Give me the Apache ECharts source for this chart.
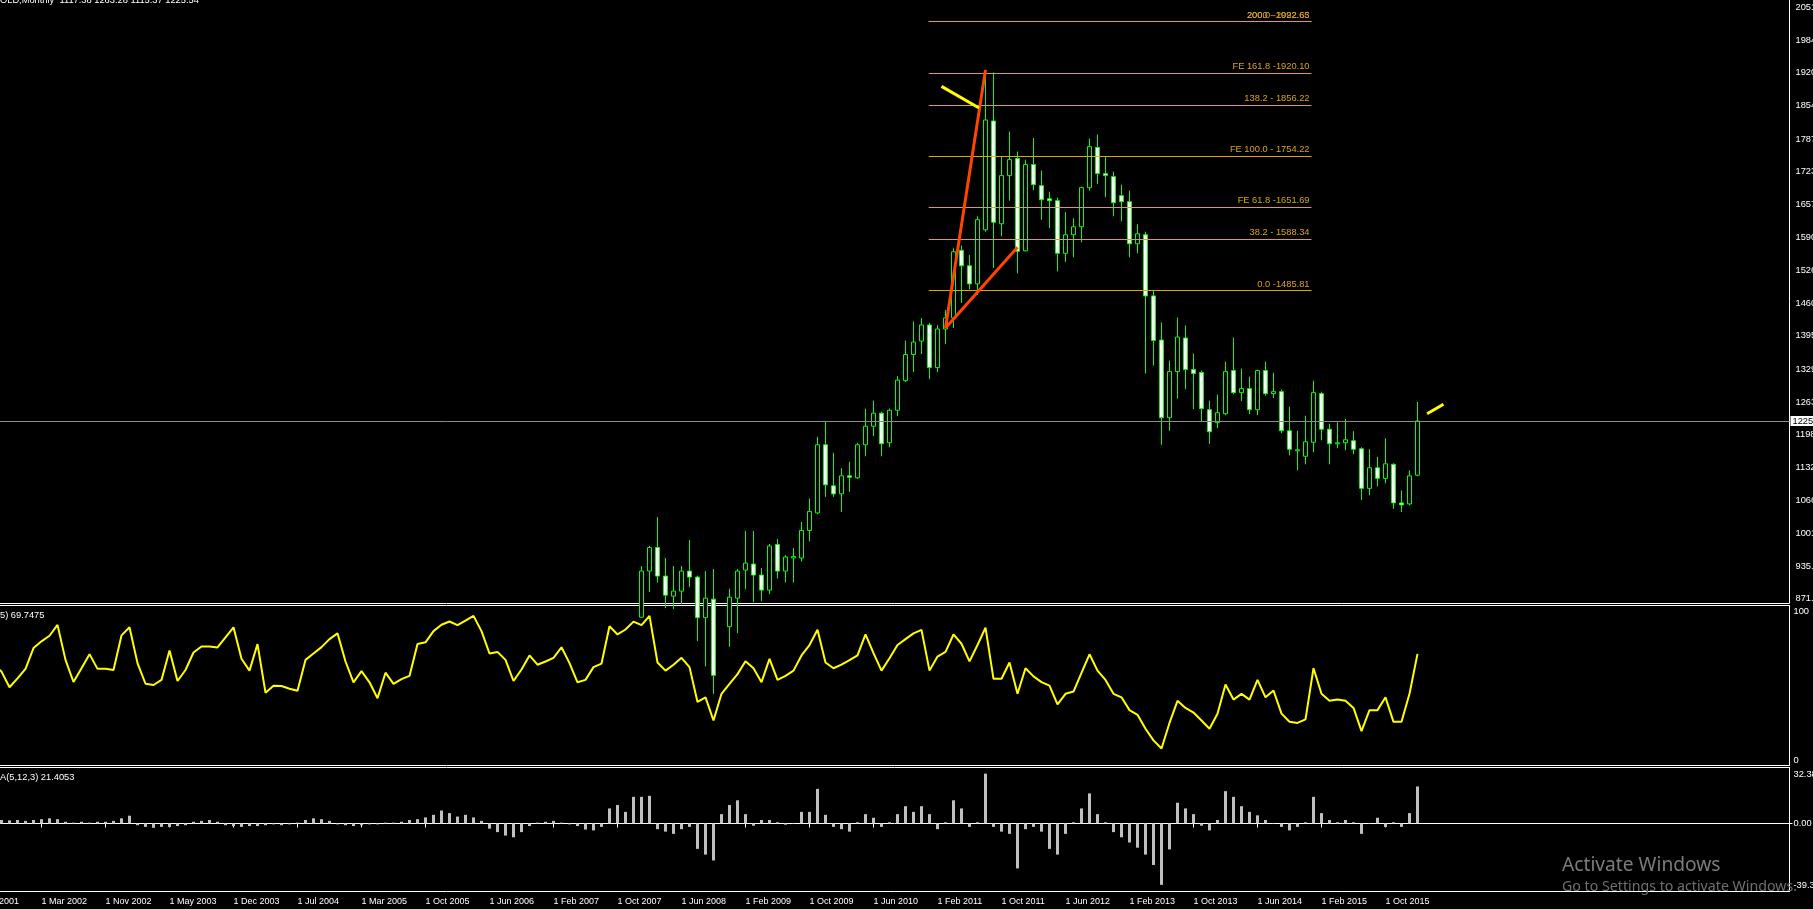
<!DOCTYPE html>
<html><head><meta charset="utf-8">
<script src="https://cdn.jsdelivr.net/npm/echarts@6/dist/echarts.min.js"></script>
<style>html,body{margin:0;padding:0;background:#000;overflow:hidden}#c{width:1813px;height:909px}</style>
</head><body><div id="c"></div>
<script>
// ---------- data ----------
const timeLabels = ['1 Jul 2001','1 Mar 2002','1 Nov 2002','1 May 2003','1 Dec 2003','1 Jul 2004','1 Mar 2005','1 Oct 2005','1 Jun 2006','1 Feb 2007','1 Oct 2007','1 Jun 2008','1 Feb 2009','1 Oct 2009','1 Jun 2010','1 Feb 2011','1 Oct 2011','1 Jun 2012','1 Feb 2013','1 Oct 2013','1 Jun 2014','1 Feb 2015','1 Oct 2015'];
const barsPerLabel = 8;
const totalSlots = 227;          // bars + empty future slots shown on the axis
const candleStart = 83;          // bar index of first candle (Jan 2008)
const opens  = [834,926,973,916,876,886,926,914,833,870,718,815,872,928,940,918,888,979,926,952,952,1007,1042,1178,1096,1080,1116,1112,1178,1215,1241,1182,1247,1306,1358,1385,1417,1332,1409,1431,1566,1535,1499,1607,1824,1619,1715,1749,1565,1737,1695,1669,1665,1560,1597,1613,1691,1771,1719,1713,1675,1663,1579,1597,1475,1387,1232,1324,1391,1328,1322,1248,1222,1240,1326,1282,1290,1248,1326,1280,1284,1206,1166,1155,1183,1280,1209,1180,1182,1186,1170,1091,1132,1111,1139,1062,1060,1117.38];
const highs  = [936,976,1034,952,936,936,988,917,926,930,846,891,930,1006,1006,932,980,990,958,972,1024,1071,1194,1225,1162,1131,1144,1182,1250,1266,1244,1250,1315,1386,1424,1431,1421,1417,1447,1570,1576,1557,1634,1912,1921,1753,1803,1763,1747,1790,1725,1683,1671,1642,1630,1693,1789,1797,1754,1723,1697,1685,1618,1603,1487,1422,1346,1432,1416,1360,1326,1266,1278,1344,1392,1330,1314,1328,1344,1322,1288,1254,1206,1236,1306,1284,1220,1223,1230,1205,1173,1169,1154,1191,1141,1087,1127,1263.28];
const lows   = [833,884,903,852,850,860,894,786,736,681,700,775,802,890,864,866,880,911,903,903,945,985,1040,1074,1074,1044,1084,1110,1155,1195,1155,1173,1235,1303,1323,1359,1309,1323,1379,1411,1461,1488,1477,1603,1531,1594,1665,1520,1564,1686,1627,1610,1524,1543,1552,1582,1685,1698,1672,1634,1624,1552,1560,1320,1336,1178,1206,1270,1289,1249,1225,1180,1211,1237,1279,1265,1239,1237,1276,1271,1201,1157,1127,1139,1163,1187,1139,1171,1167,1159,1068,1077,1095,1101,1050,1044,1057,1115.37];
const closes = [926,973,916,878,886,926,914,833,872,718,815,874,926,942,918,888,976,926,954,955,1007,1045,1178,1098,1080,1116,1113,1178,1215,1241,1180,1247,1307,1358,1383,1417,1332,1409,1431,1563,1535,1499,1627,1826,1622,1715,1747,1564,1737,1697,1667,1665,1560,1597,1613,1691,1773,1719,1715,1661,1663,1579,1599,1475,1386,1232,1324,1393,1328,1320,1250,1204,1242,1324,1282,1290,1248,1326,1280,1284,1206,1169,1168,1184,1282,1209,1180,1182,1188,1169,1091,1132,1111,1140,1062,1058,1116,1225.54];
const lastPrice = 1225.54;
const rsi = [60,64,63,58.7,48.9,54.5,60.4,73.4,77.6,81.1,87.9,66,52.2,60.8,69.6,60.4,60.4,59.7,81.3,86.4,64,51.1,50.3,53.5,71.9,52.8,59.7,70.6,74.4,74.4,73.8,80.1,86.4,66.7,59.3,75.9,45.5,49.9,49.7,48,46.7,
 66,70,74,79,82.6,65,52,59,52,42,58,51,54,56,76,77,84,88,90,87.7,90.6,93.5,84,70,71,66,52.8,60,68.8,63,65,67.3,73.9,64,52,53.5,61.5,63.7,87,81.9,85,89.9,87.7,93.5,64.4,59.3,63,67.3,61.5,39.7,42.6,28.1,44.8,51,57.1,65.1,60.8,52.1,66.6,53.5,56,59.3,68.8,75.3,84.8,64.4,60.8,63,65.9,68.8,81.9,70.2,59.3,67,75.3,79,82.6,84.8,59.3,68.1,71,81.9,76.1,65.1,75.3,86.2,54.2,54.2,64.4,44.8,60.8,55.7,52.1,49.9,38.2,44.8,46.2,57.9,69.5,59.3,53.5,44.8,42.6,34.6,31.7,23,15.7,10.6,26.6,40.4,36,33.1,28.1,23,32.4,50.6,41.2,44.8,41.2,53.5,42.6,46.9,32.4,27.3,26.6,28.8,60.8,44.8,40.4,41.2,40.4,36,21.5,34.6,34.6,42.6,27.3,27.3,44.8,69.7475];
const osma = [1.5,1.8,1.5,2,1.8,2,1.5,2,2.5,3,2.5,1,0.5,1,0.5,1,1,1.5,3,4.5,-1,-2,-2.5,-2,-2,-1.5,-1,1,1.5,2,1,-1,-1.5,-2,-1.5,-1.5,-1,-0.5,-1,-0.5,0.5,2,3,2.5,1.5,-0.5,-1,-1.5,-1,-0.5,-0.5,0.5,0.5,1,2,2.5,3.5,5,7.5,6,4,5,3.5,1.5,-3,-5,-7,-8,-5,-1.5,0.5,1,1.5,0.5,-0.5,-1.5,-3.5,-4,-2,8.7,10.7,6.7,15.4,15.4,16,-3.3,-4.7,-6,-3.3,-2,-14.7,-18,-21.4,5.4,10.7,13.4,5.4,-1.3,2,2,0.7,-0.7,0.3,6.7,6.7,20,5,-2,-3.3,-4.7,0.7,5.4,3.3,-2,0.7,5.4,10,6.7,10,5.4,-3.3,0.7,13.4,8.7,-2,0.7,28.8,-2,-4.7,-6,-26,-3.3,-2,-4.7,-14.7,-18,-6,0.7,8.7,17.4,5.4,0.7,-5,-8,-11,-14,-18,-24,-35.5,-15,12,8.7,5.4,-1.3,-4,2,18.7,15.4,10,6.7,4.7,2,0.3,-2,-4,-2,0.7,15.4,6,2,0.7,2,0.7,-6,0.3,3.3,-2,0.7,-2,6,21.4053];
const priceTicks = [871.05,935.84,1001.45,1066.38,1132.00,1198.17,1263.09,1329.26,1395.43,1460.35,1526.52,1590.85,1657.25,1723.42,1787.76,1854.50,1920.66,1984.41,2051.18];
const rsiTickValues = [96.2, 3.1];
const rsiTickLabels = ['100', '0'];
const osmaTickValues = [28.33, 0, -35.59];
const osmaTickLabels = ['32.38', '0.00', '-39.35'];
const fibLevels = [2022.63, 2022.63, 1920.10, 1856.22, 1754.22, 1651.69, 1588.34, 1485.81];
const fibTexts  = ['200.0 -2022.63', '2000 - 1992.65', 'FE 161.8 -1920.10', '138.2 - 1856.22', 'FE 100.0 - 1754.22', 'FE 61.8 -1651.69', '38.2 - 1588.34', '0.0 -1485.81'];
const fibFromBar = 118.9, fibToBar = 166.75;
const redLines = [[[121, 1411], [126, 1926]], [[121, 1411], [130, 1572]]];
const yellowLines = [[[120.5, 1893], [125.2, 1850]], [[181.2, 1240], [183.25, 1259]]];
const headerText = 'OLD,Monthly  1117.38 1263.28 1115.37 1225.54';
const rsiTitle = '5) 69.7475';
const osmaTitle = 'A(5,12,3) 21.4053';

// ---------- build ----------
const categories = [];
for (let i = 0; i < totalSlots; i++) categories.push(String(i));
const candleData = opens.map((o, k) => [candleStart + k, o, closes[k], lows[k], highs[k]]);
const FONT = 'Liberation Sans';
const nearestLabel = (vals, labs) => v => { let b = 0; vals.forEach((x, k) => { if (Math.abs(x - v) < Math.abs(vals[b] - v)) b = k; }); return labs[b]; };
const isLabelSlot = (idx) => idx % barsPerLabel === 0 && idx / barsPerLabel < timeLabels.length;
const hiddenCat = (gi) => ({ type: 'category', gridIndex: gi, data: categories, boundaryGap: true,
  axisLine: { show: false }, axisTick: { show: false }, axisLabel: { show: false }, splitLine: { show: false } });
const gridW = totalSlots * 8;
const gridLeft = 1789.5 - gridW;
const gridBase = { left: gridLeft, width: gridW, show: true, borderColor: '#fff', borderWidth: 1,
  backgroundColor: 'transparent', containLabel: false, outerBoundsMode: 'none' };

const chart = echarts.init(document.getElementById('c'), null, { renderer: 'canvas' });
chart.setOption({
  animation: false,
  backgroundColor: '#000',
  grid: [
    Object.assign({ top: -1.5, height: 605 }, gridBase),
    Object.assign({ top: 605.5, height: 160 }, gridBase),
    Object.assign({ top: 767.5, height: 124 }, gridBase)
  ],
  xAxis: [
    hiddenCat(0), hiddenCat(1),
    { type: 'category', gridIndex: 2, data: categories, boundaryGap: true,
      axisLine: { show: true, lineStyle: { color: '#fff', width: 1 } },
      axisTick: { show: true, alignWithLabel: true, length: 4, interval: (i) => isLabelSlot(i), lineStyle: { color: '#fff' } },
      axisLabel: { show: true, interval: (i) => isLabelSlot(i), formatter: (v, i) => timeLabels[i / barsPerLabel],
        align: 'left', margin: 6, color: '#fff', fontSize: 9, fontFamily: FONT },
      splitLine: { show: false } },
    { type: 'value', gridIndex: 0, min: -0.5, max: totalSlots - 0.5, show: false }
  ],
  yAxis: [
    { type: 'value', gridIndex: 0, position: 'right', min: 861.3, max: 2068.4, scale: true,
      axisLine: { show: true, lineStyle: { color: '#fff' } },
      axisTick: { show: true, length: 3, customValues: priceTicks, lineStyle: { color: '#fff' } },
      axisLabel: { show: true, customValues: priceTicks, formatter: v => v.toFixed(2), margin: 6, color: '#fff', fontSize: 9.3, fontFamily: FONT },
      splitLine: { show: false } },
    { type: 'value', gridIndex: 1, position: 'right', min: 0, max: 100,
      axisLine: { show: true, lineStyle: { color: '#fff' } },
      axisTick: { show: false },
      axisLabel: { show: true, customValues: rsiTickValues, formatter: nearestLabel(rsiTickValues, rsiTickLabels), margin: 4, color: '#fff', fontSize: 9.3, fontFamily: FONT },
      splitLine: { show: false } },
    { type: 'value', gridIndex: 2, position: 'right', min: -39.35, max: 32.38,
      axisLine: { show: true, lineStyle: { color: '#fff' } },
      axisTick: { show: true, length: 3, customValues: [0], lineStyle: { color: '#fff' } },
      axisLabel: { show: true, customValues: osmaTickValues, formatter: nearestLabel(osmaTickValues, osmaTickLabels), margin: 4, color: '#fff', fontSize: 9.3, fontFamily: FONT },
      splitLine: { show: false } }
  ],
  series: [
    { type: 'candlestick', xAxisIndex: 0, yAxisIndex: 0, data: candleData,
      encode: { x: 0, y: [1, 2, 3, 4] }, barWidth: 4, clip: true,
      itemStyle: { color: '#000', color0: '#fff', borderColor: '#00ff00', borderColor0: '#00ff00', borderWidth: 1 },
      markLine: { silent: true, symbol: ['none', 'none'], animation: false,
        lineStyle: { color: '#8c8c8c', width: 1, type: 'solid' },
        label: { show: true, position: 'end', distance: 1, formatter: () => lastPrice.toFixed(2), color: '#000', backgroundColor: '#fff', padding: [1, 2, 0, 2], fontSize: 9.3, fontFamily: FONT },
        data: [{ yAxis: lastPrice }] } },
    ...redLines.map((seg, k) => ({ type: 'line', xAxisIndex: 3, yAxisIndex: 0, data: seg, symbol: 'none', silent: true,
      lineStyle: { color: '#ff4500', width: 3 }, z: 5,
      markLine: k === 0 ? { silent: true, symbol: ['none', 'none'], animation: false,
        lineStyle: { color: '#daa520', width: 1, type: 'solid' },
        label: { show: true, position: 'insideEndTop', distance: 2, color: '#d9a322', fontSize: 9.3, fontFamily: FONT },
        data: fibLevels.map((lv, j) => [{ coord: [fibFromBar, lv], label: { formatter: fibTexts[j] } }, { coord: [fibToBar, lv] }]) } : undefined })),
    ...yellowLines.map(seg => ({ type: 'line', xAxisIndex: 3, yAxisIndex: 0, data: seg, symbol: 'none', silent: true,
      lineStyle: { color: '#ffff00', width: 3 }, z: 6 })),
    { type: 'line', xAxisIndex: 1, yAxisIndex: 1, data: rsi, symbol: 'none', silent: true,
      lineStyle: { color: '#ffff00', width: 2 } },
    { type: 'bar', xAxisIndex: 2, yAxisIndex: 2, data: osma, barWidth: 3, silent: true,
      itemStyle: { color: '#c0c0c0' } }
  ],
  graphic: [
    { type: 'text', left: 0, top: -4, style: { text: headerText, fill: '#fff', font: '9.3px ' + FONT } },
    { type: 'text', left: 0, top: 611, style: { text: rsiTitle, fill: '#fff', font: '9.3px ' + FONT } },
    { type: 'text', left: 0, top: 773, style: { text: osmaTitle, fill: '#fff', font: '9.3px ' + FONT } },
    { type: 'text', left: 1562, top: 856, z: 100, style: { text: 'Activate Windows', fill: '#7c7c7c', font: '19.2px "Noto Sans"' } },
    { type: 'text', left: 1562, top: 880, z: 100, style: { text: 'Go to Settings to activate Windows.', fill: '#6f6f6f', font: '14.2px "Noto Sans"' } }
  ]
});
</script></body></html>
